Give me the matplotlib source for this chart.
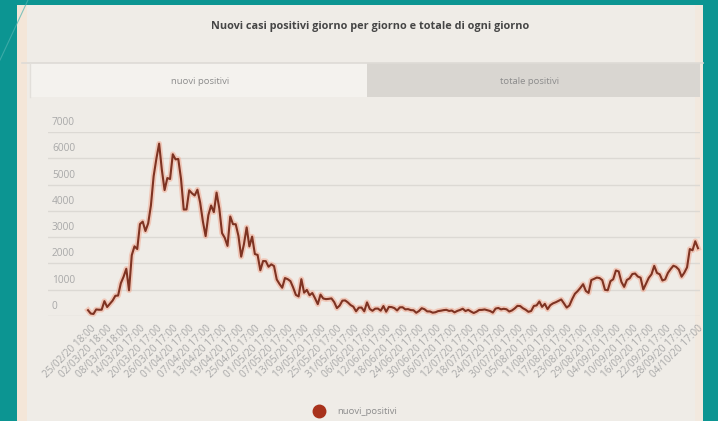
import matplotlib
matplotlib.use("Agg")
import matplotlib.pyplot as plt
from matplotlib.patches import Rectangle
from matplotlib.lines import Line2D

# ---------------- data ----------------
title = "Nuovi casi positivi giorno per giorno e totale di ogni giorno"
tab_labels = ["nuovi positivi", "totale positivi"]
series_name = "nuovi_positivi"

nuovi_positivi = [
    221, 93, 78, 250, 238, 240,
    566, 342, 466, 587, 769, 778, 1247, 1492, 1797, 977,
    2313, 2651, 2547, 3497, 3590, 3233, 3526, 4207, 5322, 5986,
    6557, 5560, 4789, 5249, 5210, 6153, 5959, 5974, 5217, 4050, 4053,
    4782, 4668, 4585, 4805, 4316, 3599, 3039, 3836, 4204, 3951,
    4694, 4092, 3153, 2972, 2667, 3786, 3493, 3491, 3047, 2256,
    2729, 3370, 2646, 3021, 2357, 2324, 1739, 2091, 2086, 1872,
    1965, 1900, 1389, 1221, 1075, 1444, 1401, 1327, 1083, 802,
    744, 1402, 888, 992, 789, 875, 675, 451, 813, 665,
    642, 652, 669, 531, 300, 397, 584, 593, 516, 416, 355,
    178, 318, 321, 177, 518, 270, 197, 280, 283, 202,
    379, 163, 346, 338, 301, 210, 329, 333, 251, 262,
    224, 218, 122, 190, 296, 259, 175, 174, 126, 142,
    187, 201, 223, 235, 192, 208, 138, 193, 229, 276,
    188, 234, 169, 114, 162, 230, 233, 249, 219, 190,
    129, 282, 306, 252, 275, 255, 170, 212, 289, 386, 379,
    295, 239, 159, 190, 384, 402, 552, 347, 463, 259,
    412, 481, 523, 574, 629, 479, 320, 403, 642, 845,
    947, 1071, 1210, 953, 878, 1367, 1411, 1462, 1444, 1365, 996,
    978, 1326, 1397, 1733, 1695, 1297, 1108, 1370, 1434, 1597,
    1616, 1501, 1458, 1008, 1229, 1452, 1585, 1907, 1638, 1587,
    1350, 1392, 1640, 1786, 1912, 1869, 1766, 1494, 1648, 1851,
    2548, 2499, 2844, 2578,
]

tick_labels = [
    "25/02/20 18:00", "02/03/20 18:00", "08/03/20 18:00", "14/03/20 17:00",
    "20/03/20 17:00", "26/03/20 17:00", "01/04/20 17:00", "07/04/20 17:00",
    "13/04/20 17:00", "19/04/20 17:00", "25/04/20 17:00", "01/05/20 17:00",
    "07/05/20 17:00", "13/05/20 17:00", "19/05/20 17:00", "25/05/20 17:00",
    "31/05/20 17:00", "06/06/20 17:00", "12/06/20 17:00", "18/06/20 17:00",
    "24/06/20 17:00", "30/06/20 17:00", "06/07/20 17:00", "12/07/20 17:00",
    "18/07/20 17:00", "24/07/20 17:00", "30/07/20 17:00", "05/08/20 17:00",
    "11/08/20 17:00", "17/08/20 17:00", "23/08/20 17:00", "29/08/20 17:00",
    "04/09/20 17:00", "10/09/20 17:00", "16/09/20 17:00", "22/09/20 17:00",
    "28/09/20 17:00", "04/10/20 17:00",
]
tick_step = 6
tick_start = 1
y_ticks = [0, 1000, 2000, 3000, 4000, 5000, 6000, 7000]

# ---------------- figure ----------------
W, H = 718, 421
fig = plt.figure(figsize=(W / 100, H / 100), dpi=100)
fig.patch.set_facecolor("#0c9592")
plt.rcParams["font.family"] = ["Open Sans", "DejaVu Sans"]

def fx(px):
    return px / W

def fy(py):
    return 1 - py / H

# panel (behind the axes)
fig.patches.append(Rectangle((fx(17), 0), fx(703) - fx(17), fy(5), transform=fig.transFigure,
                             facecolor="#efece7", edgecolor="none", zorder=-3))
fig.patches.append(Rectangle((fx(17), 0), fx(10), fy(5), transform=fig.transFigure,
                             facecolor="#f4e6d8", edgecolor="none", zorder=-2))
fig.patches.append(Rectangle((fx(695), 0), fx(8), fy(5), transform=fig.transFigure,
                             facecolor="#f2e9df", edgecolor="none", zorder=-2))
# decorative teal line
fig.lines.append(Line2D([fx(0), fx(28)], [fy(60), fy(0)], transform=fig.transFigure,
                        color="#4fb3b0", lw=0.8, alpha=0.7))

# title
fig.text(fx(370), fy(27), title, ha="center", va="center", fontsize=7.8,
         color="#454545", fontweight="bold")

# tabs
fig.patches.append(Rectangle((fx(30), fy(97)), fx(367) - fx(30), fy(63) - fy(97),
                             transform=fig.transFigure, facecolor="#f4f2ee",
                             edgecolor="none", zorder=-1))
fig.patches.append(Rectangle((fx(367), fy(97)), fx(700) - fx(367), fy(63) - fy(97),
                             transform=fig.transFigure, facecolor="#d9d6d1",
                             edgecolor="none", zorder=-1))
fig.lines.append(Line2D([fx(22), fx(703)], [fy(63), fy(63)], transform=fig.transFigure,
                        color="#dedbd6", lw=1.2, zorder=2))
fig.lines.append(Line2D([fx(30), fx(30)], [fy(63), fy(97)], transform=fig.transFigure,
                        color="#e2dfda", lw=1.0, zorder=2))
fig.text(fx(200), fy(81), tab_labels[0], ha="center", va="center", fontsize=6.8, color="#8c8c8c")
fig.text(fx(530), fy(81), tab_labels[1], ha="center", va="center", fontsize=6.8, color="#8c8c8c")

# chart axes
ax_l, ax_r, ax_t, ax_b = 48, 700, 132, 316
ax = fig.add_axes([fx(ax_l), fy(ax_b), fx(ax_r) - fx(ax_l), fy(ax_t) - fy(ax_b)])
ax.set_zorder(1)
ax.patch.set_alpha(0)
n = len(nuovi_positivi)
x = list(range(n))
first_px, last_px = 88, 698
ppd = (last_px - first_px) / (n - 1)
ax.set_xlim(-(first_px - ax_l) / ppd, (n - 1) + (ax_r - last_px) / ppd)
ax.set_ylim(0, 7000)
for s in ax.spines.values():
    s.set_visible(False)

for v in y_ticks:
    ax.axhline(v, color="#dcd9d4", lw=1.0, zorder=1)
    ax.annotate(f"{v}", xy=(0.006, v), xycoords=("axes fraction", "data"),
                xytext=(0, 6.8), textcoords="offset points", ha="left", va="center",
                fontsize=7.3, color="#a8a8a8")
ax.set_yticks([])

ax.plot(x, nuovi_positivi, color="#f2a48a", lw=4.0, alpha=0.5, zorder=2,
        solid_joinstyle="round", clip_on=False)
ax.plot(x, nuovi_positivi, color="#7e3322", lw=1.5, zorder=3,
        solid_joinstyle="round", clip_on=False)

tick_pos = [tick_start + i * tick_step for i in range(len(tick_labels))]
ax.set_xticks(tick_pos)
ax.set_xticklabels(tick_labels, rotation=45, ha="right", rotation_mode="anchor",
                   fontsize=7.2, color="#a8a8a8")
ax.tick_params(axis="x", length=0, pad=5)

# legend
fig.lines.append(Line2D([fx(319)], [fy(411)], transform=fig.transFigure, marker="o",
                        markersize=9, color="#a8321c", linestyle="none"))
fig.text(fx(337), fy(411), series_name, ha="left", va="center", fontsize=6.8, color="#8c8c8c")

fig.savefig("out.png", dpi=100, facecolor=fig.get_facecolor())
